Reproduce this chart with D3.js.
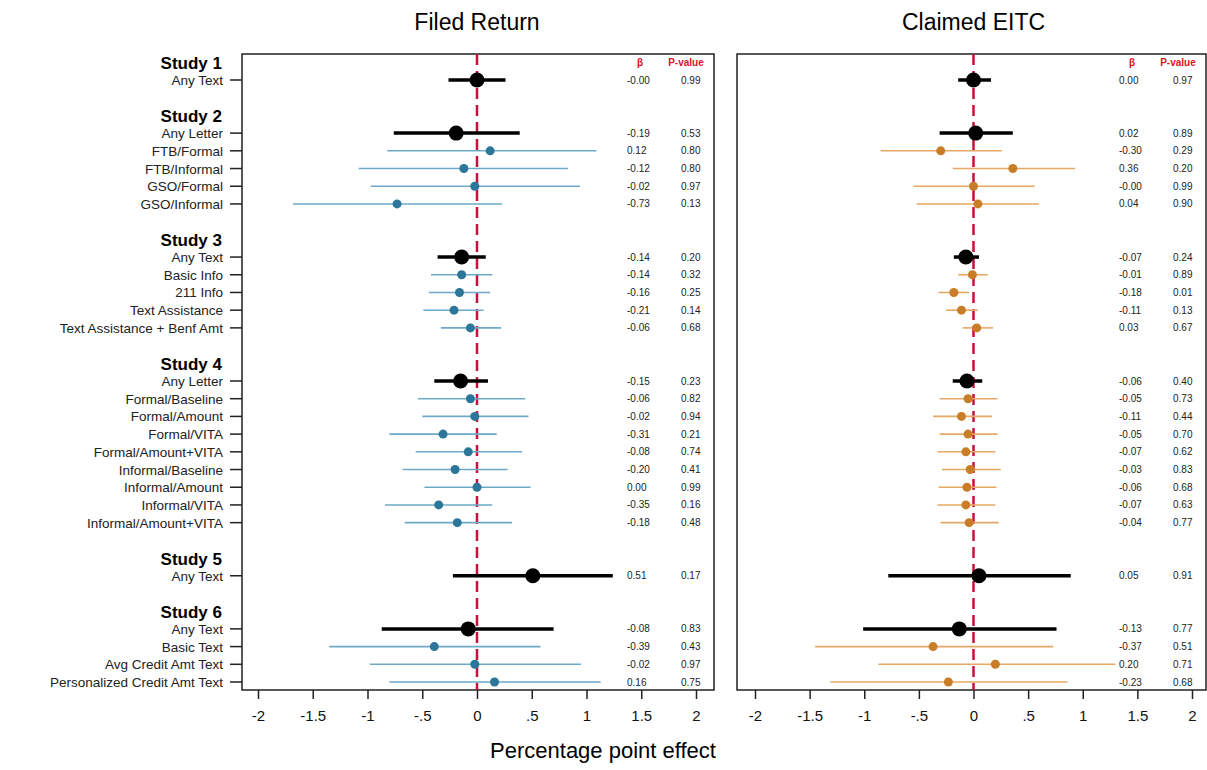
<!DOCTYPE html>
<html><head><meta charset="utf-8">
<script src="https://cdn.jsdelivr.net/npm/d3@7"></script>
<style>body{margin:0;background:#fff}text{font-family:Arial,"Liberation Sans",sans-serif}</style>
</head><body><div id="chart"></div>
<script>
// study headers: [label, row index]
const studies = [["Study 1", 0], ["Study 2", 3], ["Study 3", 10], ["Study 4", 17], ["Study 5", 28], ["Study 6", 31]];
const labels = ["Any Text", "Any Letter", "FTB/Formal", "FTB/Informal", "GSO/Formal", "GSO/Informal",
  "Any Text", "Basic Info", "211 Info", "Text Assistance", "Text Assistance + Benf Amt",
  "Any Letter", "Formal/Baseline", "Formal/Amount", "Formal/VITA", "Formal/Amount+VITA",
  "Informal/Baseline", "Informal/Amount", "Informal/VITA", "Informal/Amount+VITA",
  "Any Text", "Any Text", "Basic Text", "Avg Credit Amt Text", "Personalized Credit Amt Text"];
const rowIndex = [0, 3, 4, 5, 6, 7, 10, 11, 12, 13, 14, 17, 18, 19, 20, 21, 22, 23, 24, 25, 28, 31, 32, 33, 34];
const pooled = [1, 1, 0, 0, 0, 0, 1, 0, 0, 0, 0, 1, 0, 0, 0, 0, 0, 0, 0, 0, 1, 1, 0, 0, 0];

const filedBeta = [-0.00, -0.19, 0.12, -0.12, -0.02, -0.73, -0.14, -0.14, -0.16, -0.21, -0.06, -0.15, -0.06, -0.02, -0.31, -0.08, -0.20, 0.00, -0.35, -0.18, 0.51, -0.08, -0.39, -0.02, 0.16];
const filedP = ["0.99", "0.53", "0.80", "0.80", "0.97", "0.13", "0.20", "0.32", "0.25", "0.14", "0.68", "0.23", "0.82", "0.94", "0.21", "0.74", "0.41", "0.99", "0.16", "0.48", "0.17", "0.83", "0.43", "0.97", "0.75"];
const filedLo = [-0.26, -0.76, -0.82, -1.08, -0.97, -1.68, -0.36, -0.42, -0.44, -0.49, -0.33, -0.39, -0.54, -0.50, -0.80, -0.56, -0.68, -0.48, -0.84, -0.66, -0.22, -0.87, -1.35, -0.98, -0.80];
const filedHi = [0.26, 0.39, 1.09, 0.83, 0.94, 0.23, 0.08, 0.14, 0.12, 0.06, 0.22, 0.10, 0.44, 0.47, 0.18, 0.41, 0.28, 0.49, 0.14, 0.32, 1.24, 0.70, 0.58, 0.95, 1.13];

const eitcBeta = [0.00, 0.02, -0.30, 0.36, -0.00, 0.04, -0.07, -0.01, -0.18, -0.11, 0.03, -0.06, -0.05, -0.11, -0.05, -0.07, -0.03, -0.06, -0.07, -0.04, 0.05, -0.13, -0.37, 0.20, -0.23];
const eitcP = ["0.97", "0.89", "0.29", "0.20", "0.99", "0.90", "0.24", "0.89", "0.01", "0.13", "0.67", "0.40", "0.73", "0.44", "0.70", "0.62", "0.83", "0.68", "0.63", "0.77", "0.91", "0.77", "0.51", "0.71", "0.68"];
const eitcLo = [-0.14, -0.31, -0.85, -0.19, -0.55, -0.52, -0.18, -0.14, -0.32, -0.25, -0.10, -0.19, -0.31, -0.37, -0.31, -0.33, -0.29, -0.32, -0.33, -0.30, -0.78, -1.01, -1.45, -0.87, -1.31];
const eitcHi = [0.16, 0.36, 0.26, 0.93, 0.56, 0.60, 0.05, 0.13, -0.04, 0.04, 0.18, 0.08, 0.22, 0.17, 0.22, 0.20, 0.25, 0.21, 0.20, 0.23, 0.89, 0.76, 0.73, 1.30, 0.86];

const ticks = [-2, -1.5, -1, -0.5, 0, 0.5, 1, 1.5, 2];
const tickText = ["-2", "-1.5", "-1", "-.5", "0", ".5", "1", "1.5", "2"];

const W = 1207, H = 770, topY = 54, bottomY = 690;
const svg = d3.select("#chart").append("svg").attr("width", W).attr("height", H);
const y = d3.scaleLinear().domain([0, 34]).range([80, 682]);

function fmt(v) { return (v < 0 ? "-" : "") + Math.abs(v).toFixed(2); }

function panel(x0, x1, xr, title, beta, lo, hi, pv, lineC, dotC, negZero) {
  const x = d3.scaleLinear().domain([-2, 2]).range(xr);
  const g = svg.append("g");
  g.append("rect").attr("x", x0).attr("y", topY).attr("width", x1 - x0).attr("height", bottomY - topY)
    .attr("fill", "none").attr("stroke", "#222").attr("stroke-width", 1.5);
  g.append("text").attr("x", x(0)).attr("y", 30).attr("text-anchor", "middle").attr("font-size", 23).text(title);
  const ax = g.append("g").attr("transform", `translate(0,${bottomY})`)
    .call(d3.axisBottom(x).tickValues(ticks).tickSize(9).tickFormat((d, i) => tickText[i]));
  ax.select(".domain").remove();
  ax.selectAll("line").attr("stroke", "#222").attr("stroke-width", 1.5);
  ax.selectAll("text").attr("font-size", 15).attr("dy", "1.25em").attr("fill", "#111");
  g.append("line").attr("x1", x(0)).attr("x2", x(0)).attr("y1", topY).attr("y2", bottomY)
    .attr("stroke", "#c8103c").attr("stroke-width", 2.5).attr("stroke-dasharray", "11,6");
  beta.forEach((b, i) => {
    const yy = y(rowIndex[i]), p = pooled[i];
    g.append("line").attr("x1", x(lo[i])).attr("x2", x(hi[i])).attr("y1", yy).attr("y2", yy)
      .attr("stroke", p ? "#000" : lineC).attr("stroke-width", p ? 3.5 : 1.6);
    g.append("circle").attr("cx", x(b)).attr("cy", yy).attr("r", p ? 7.5 : 4.5).attr("fill", p ? "#000" : dotC);
    const bt = negZero.includes(i) ? "-0.00" : fmt(b);
    g.append("text").attr("x", x1 - 87).attr("y", yy + 3.5).attr("font-size", 10).attr("fill", "#222").text(bt);
    g.append("text").attr("x", x1 - 33).attr("y", yy + 3.5).attr("font-size", 10).attr("fill", "#222").text(pv[i]);
  });
  g.append("text").attr("x", x1 - 74).attr("y", 66).attr("font-size", 10).attr("text-anchor", "middle")
    .attr("fill", "#e0102a").attr("font-weight", "bold").text("β");
  g.append("text").attr("x", x1 - 28).attr("y", 66).attr("font-size", 10).attr("text-anchor", "middle")
    .attr("fill", "#e0102a").attr("font-weight", "bold").text("P-value");
}

panel(242, 714, [258, 696], "Filed Return", filedBeta, filedLo, filedHi, filedP, "#6ea9c6", "#2b7699", [0]);
panel(737, 1206, [755, 1192], "Claimed EITC", eitcBeta, eitcLo, eitcHi, eitcP, "#e6a865", "#c97d27", [4]);

studies.forEach(s => {
  svg.append("text").attr("x", 222).attr("y", y(s[1]) - 11).attr("text-anchor", "end")
    .attr("font-size", 17).attr("font-weight", "bold").text(s[0]);
});
labels.forEach((l, i) => {
  const yy = y(rowIndex[i]);
  svg.append("text").attr("x", 223).attr("y", yy + 5).attr("text-anchor", "end").attr("font-size", 13.5).attr("fill", "#222").text(l);
  svg.append("line").attr("x1", 230).attr("x2", 242).attr("y1", yy).attr("y2", yy).attr("stroke", "#222").attr("stroke-width", 1.5);
});

svg.append("text").attr("x", 603).attr("y", 758).attr("text-anchor", "middle").attr("font-size", 22).text("Percentage point effect");
</script></body></html>
